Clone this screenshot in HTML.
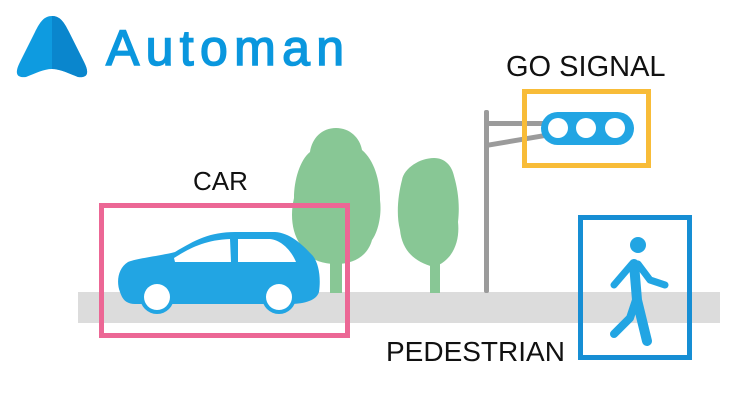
<!DOCTYPE html>
<html><head><meta charset="utf-8"><style>
html,body{margin:0;padding:0;background:#fff;}
svg{display:block}
text{font-family:"Liberation Sans",Arial,sans-serif;}
</style></head><body>
<svg width="740" height="418" viewBox="0 0 740 418" xmlns="http://www.w3.org/2000/svg">
<!-- logo -->
<path d="M52 16 C44 16 40 22 35 32 L20 62 C14 74 17 78 26 77 C36 73 44 69 52 69 C60 69 68 73 78 77 C87 78 90 74 84 62 L69 32 C64 22 60 16 52 16 Z" fill="#0e9be0"/>
<path d="M52 16 C60 16 64 22 69 32 L84 62 C90 74 87 78 78 77 C68 73 60 69 52 69 Z" fill="#0a86cd"/>
<text x="106" y="65" font-size="50" fill="#0a97de" stroke="#0a97de" stroke-width="1.5" textLength="238" lengthAdjust="spacing">Automan</text>
<!-- road -->
<rect x="78" y="292" width="642" height="31" fill="#dcdcdc"/>
<!-- trees -->
<rect x="330" y="240" width="12" height="53" fill="#88c795"/>
<path d="M336 128 C350 128 360 138 362 150 C374 160 380 180 380 200 C382 215 378 232 372 240 C368 255 355 264 336 264 C316 264 304 255 300 244 C292 232 290 215 294 198 C294 180 300 160 310 152 C312 138 322 128 336 128 Z" fill="#88c795"/>
<rect x="430" y="245" width="10" height="48" fill="#88c795"/>
<path d="M434 158 C445 158 452 166 454 176 C458 190 460 205 458 222 C460 240 454 260 434 267 C414 262 402 250 400 230 C396 215 398 195 402 180 C404 168 420 158 434 158 Z" fill="#88c795"/>
<!-- pole -->
<rect x="484" y="110" width="5" height="183" rx="2" fill="#9b9b9b"/>
<rect x="486" y="121" width="60" height="5" fill="#9b9b9b"/>
<path d="M486 143 L545 133 L545 138 L486 148 Z" fill="#9b9b9b"/>
<!-- traffic light -->
<rect x="541" y="112" width="93" height="33" rx="16.5" fill="#22a5e3"/>
<circle cx="558" cy="128" r="10" fill="#fff"/>
<circle cx="586" cy="128" r="10" fill="#fff"/>
<circle cx="615" cy="128" r="10" fill="#fff"/>
<rect x="524.5" y="91.5" width="124" height="74" fill="none" stroke="#f8bc38" stroke-width="5"/>
<text x="506" y="76" font-size="29" fill="#111">GO SIGNAL</text>
<!-- car -->
<path d="M120 292 C116 282 118 268 128 262 C138 258 160 256 175 252 C195 240 210 232 235 232 L275 232 C290 233 302 244 313 256 C319 264 321 278 319 292 C316 302 300 304 290 304 L135 304 C125 304 122 298 120 292 Z" fill="#22a5e3"/>
<path d="M174 258 C190 248 205 240 230 239 L231 262 L175 262 Z" fill="#fff"/>
<path d="M238 239 L270 239 C282 240 292 252 296 262 L238 262 Z" fill="#fff"/>
<rect x="231" y="238" width="7" height="26" fill="#22a5e3"/>
<circle cx="157" cy="297" r="17" fill="#22a5e3"/>
<circle cx="157" cy="297" r="13" fill="#fff"/>
<circle cx="279" cy="297" r="17" fill="#22a5e3"/>
<circle cx="279" cy="297" r="13" fill="#fff"/>
<rect x="101.5" y="205.5" width="246" height="130" fill="none" stroke="#ec6795" stroke-width="5"/>
<text x="193" y="190" font-size="26" fill="#111">CAR</text>
<!-- pedestrian -->
<rect x="580.5" y="217.5" width="109" height="140" fill="none" stroke="#168ed4" stroke-width="5"/>
<circle cx="638" cy="245" r="8" fill="#22a5e3"/>
<g stroke="#22a5e3" stroke-linecap="round" stroke-linejoin="round" fill="none">
<path d="M634 264 L637 300 L647 341" stroke-width="10"/>
<path d="M636 300 L630 318 L614 334" stroke-width="8"/>
<path d="M632 264 L614 285" stroke-width="7"/>
<path d="M638 264 L650 280 L665 285" stroke-width="7"/>
</g>
<text x="386" y="361" font-size="28" fill="#111">PEDESTRIAN</text>
</svg>
</body></html>
